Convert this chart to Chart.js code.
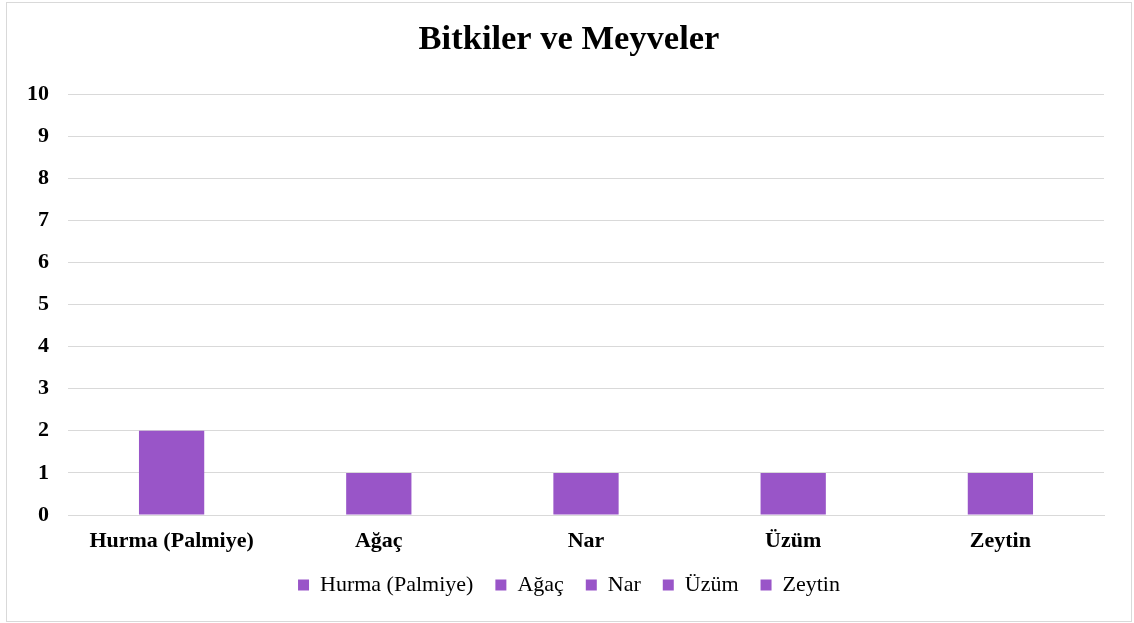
<!DOCTYPE html>
<html><head><meta charset="utf-8">
<script src="https://cdn.jsdelivr.net/npm/chart.js@4/dist/chart.umd.min.js"></script>
<style>
html,body{margin:0;padding:0;background:#fff;}
#wrap{position:absolute;left:6px;top:2px;width:1124px;height:618px;border:1px solid #d9d9d9;background:#fff;}
canvas{display:block;}
</style></head>
<body><div id="wrap"><canvas id="c" width="1124" height="618"></canvas></div>
<script>
const categories = ["Hurma (Palmiye)", "Ağaç", "Nar", "Üzüm", "Zeytin"];
const values = [2, 1, 1, 1, 1];
const yTicks = [0,1,2,3,4,5,6,7,8,9,10];
const barColor = "#9955c8";
const serif = "'Liberation Serif','Times New Roman',serif";

new Chart(document.getElementById('c'), {
  type: 'bar',
  data: { labels: categories, datasets: [{ label: 'Seri', data: values, backgroundColor: barColor, borderWidth: 0, barPercentage: 0.315, categoryPercentage: 1, yAxisID: 'y' }] },
  options: {
    responsive: false, animation: false,
    layout: { padding: { left: 0, right: 0, top: 10, bottom: 15 } },
    plugins: {
      title: { display: true, text: 'Bitkiler ve Meyveler', color: '#000', font: { family: serif, size: 34.5, weight: 'bold' }, padding: { top: 6, bottom: 33.6 } },
      legend: { position: 'bottom', labels: { color: '#000', font: { family: serif, size: 22 }, boxWidth: 11, boxHeight: 11, padding: 22,
        generateLabels: (chart) => categories.map((c, i) => ({ text: c, fillStyle: barColor, strokeStyle: barColor, lineWidth: 0, hidden: false, index: i, fontColor: '#000' })) } },
      tooltip: { enabled: false }
    },
    scales: {
      x: { grid: { display: false, drawTicks: false }, border: { color: '#d9d9d9' },
        afterFit: (s) => { s.height = 37; },
        ticks: { color: '#000', font: { family: serif, size: 22, weight: 'bold' }, padding: 13 } },
      y: { position: 'left', min: 0, max: 10, afterBuildTicks: (s) => { s.ticks = yTicks.map(v => ({ value: v })); },
        afterFit: (s) => { s.width = 61; },
        grid: { color: '#d9d9d9', drawTicks: false }, border: { display: false },
        ticks: { color: '#000', font: { family: serif, size: 22, weight: 'bold' }, padding: 19 } },
      yRight: { position: 'right', min: 0, max: 10, afterFit: (s) => { s.width = 27; },
        grid: { display: false, drawTicks: false }, border: { display: false }, ticks: { display: false } }
    }
  }
});
</script></body></html>
